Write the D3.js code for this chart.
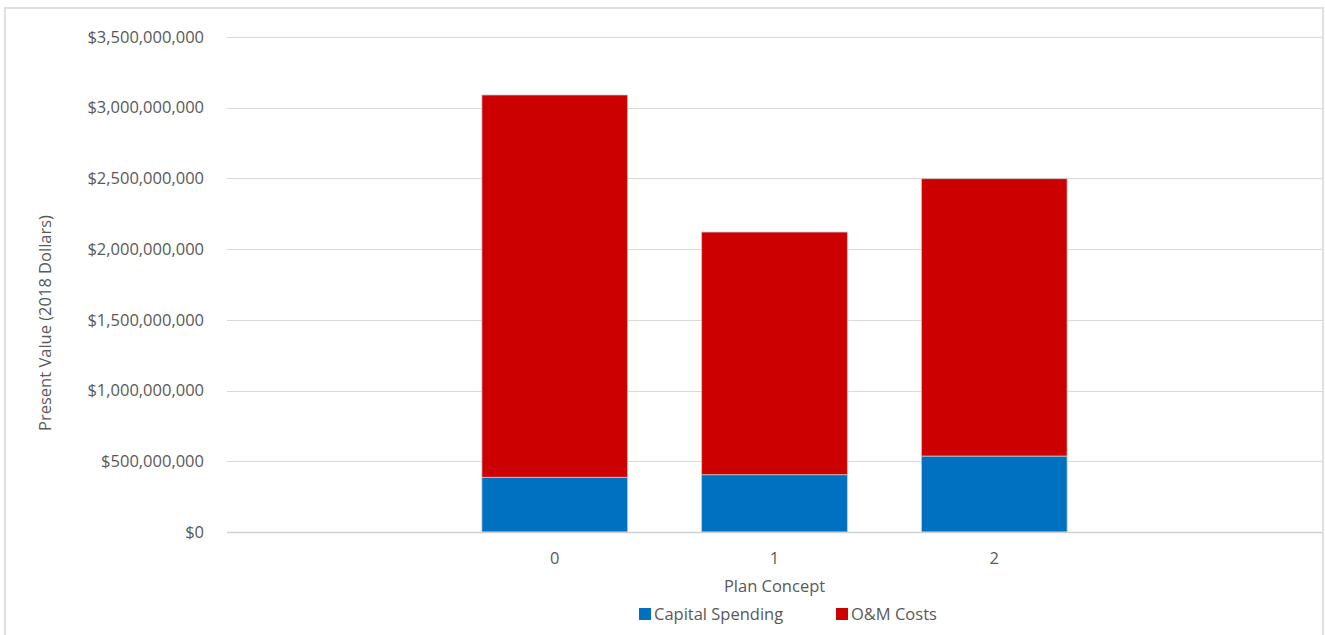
<!DOCTYPE html>
<html><head><meta charset="utf-8">
<script src="https://cdn.jsdelivr.net/npm/d3@7"></script>
<style>
html,body{margin:0;padding:0;background:#fff;}
text{font-family:"Open Sans",sans-serif;fill:#595959;}
</style></head>
<body>
<svg id="chart" width="1325" height="635"></svg>
<script>
const categories = ["0", "1", "2"];
const capitalSpending = [387000000, 405000000, 537000000];
const omCosts = [2703000000, 1716000000, 1961000000];
const seriesNames = ["Capital Spending", "O&M Costs"];
const seriesColors = ["#0070C0", "#CC0000"];
const yTicks = [0, 500000000, 1000000000, 1500000000, 2000000000, 2500000000, 3000000000, 3500000000];

const svg = d3.select("#chart");
const plot = {left: 227, right: 1322, top: 37, bottom: 532};

// chart border
svg.append("rect").attr("x", 5).attr("y", 8).attr("width", 1318).attr("height", 640)
  .attr("fill", "#fff").attr("stroke", "#e0e0e0").attr("stroke-width", 2);

const y = d3.scaleLinear().domain([0, 3500000000]).range([plot.bottom, plot.top]);
const x = d3.scaleBand().domain(categories).range([plot.left, plot.right])
  .paddingInner(0.337).paddingOuter(1.16);

// gridlines
svg.append("g").selectAll("line").data(yTicks.filter(d => d > 0)).join("line")
  .attr("x1", plot.left).attr("x2", plot.right)
  .attr("y1", d => Math.round(y(d)) + 0.5).attr("y2", d => Math.round(y(d)) + 0.5)
  .attr("stroke", "#d9d9d9").attr("stroke-width", 1);

// y tick labels
const fmt = d => "$" + d3.format(",")(d);
svg.append("g").selectAll("text").data(yTicks).join("text")
  .attr("x", 204).attr("y", d => y(d)).attr("dy", "0.35em")
  .attr("text-anchor", "end").attr("font-size", 16.5)
  .text(fmt);

// stacked data
const rows = categories.map((c, i) => ({cat: c, cap: capitalSpending[i], om: omCosts[i]}));
const stack = d3.stack().keys(["cap", "om"])(rows);

svg.append("g").selectAll("g").data(stack).join("g")
  .attr("fill", (d, i) => seriesColors[i])
  .selectAll("rect").data(d => d).join("rect")
  .attr("x", d => x(d.data.cat))
  .attr("width", x.bandwidth())
  .attr("y", d => y(d[1]))
  .attr("height", d => y(d[0]) - y(d[1]))
  .attr("stroke", "#c8c8c8").attr("stroke-width", 0.8);

// baseline
svg.append("line").attr("x1", plot.left).attr("x2", plot.right)
  .attr("y1", plot.bottom + 0.5).attr("y2", plot.bottom + 0.5)
  .attr("stroke", "#d0d0d0").attr("stroke-width", 1.5);

// x tick labels
svg.append("g").selectAll("text").data(categories).join("text")
  .attr("x", d => x(d) + x.bandwidth() / 2).attr("y", 558).attr("dy", "0.35em")
  .attr("text-anchor", "middle").attr("font-size", 16.5).text(d => d);

// axis titles
svg.append("text").attr("x", (plot.left + plot.right) / 2).attr("y", 586).attr("dy", "0.35em")
  .attr("text-anchor", "middle").attr("font-size", 16.5).text("Plan Concept");
svg.append("text").attr("transform", "translate(45,323) rotate(-90)").attr("dy", "0.35em")
  .attr("text-anchor", "middle").attr("font-size", 16.5).text("Present Value (2018 Dollars)");

// legend
const legendX = [639, 836];
const lg = svg.append("g").selectAll("g").data(seriesNames).join("g")
  .attr("transform", (d, i) => `translate(${legendX[i]},614)`);
lg.append("rect").attr("x", 0).attr("y", -6).attr("width", 12).attr("height", 12)
  .attr("fill", (d, i) => seriesColors[i]);
lg.append("text").attr("x", 15).attr("dy", "0.35em").attr("font-size", 16.5).text(d => d);
</script>
</body></html>
